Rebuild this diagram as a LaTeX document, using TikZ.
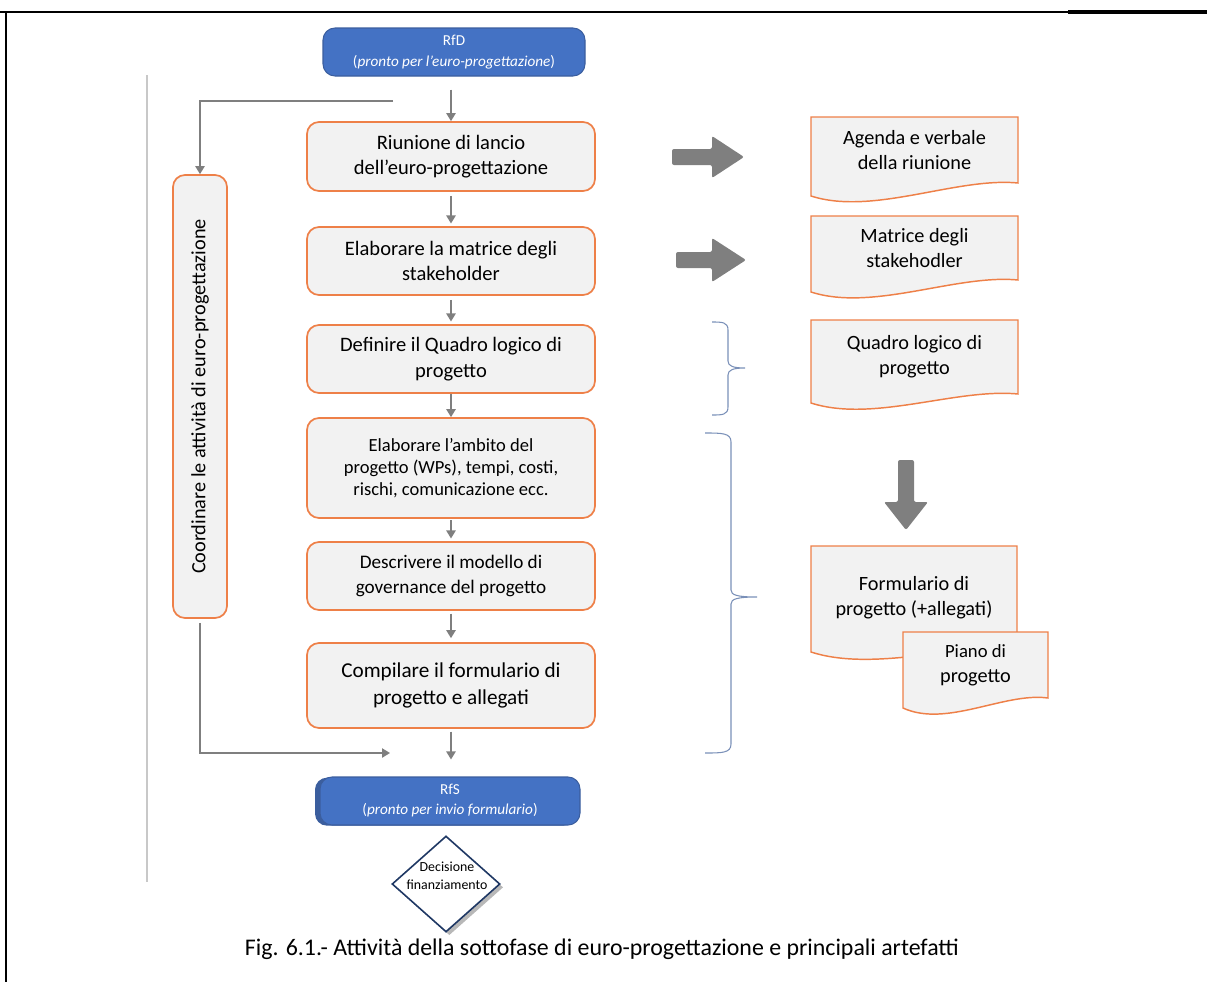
\documentclass[tikz,border=0pt]{standalone}
\usepackage{fontspec}
\setmainfont{Carlito}
\usetikzlibrary{arrows.meta,shapes.geometric,calc,shadows}

\definecolor{accblue}{HTML}{4472C4}
\definecolor{accblueedge}{HTML}{3B5E9E}
\definecolor{boxfill}{HTML}{F2F2F2}
\definecolor{boxedge}{HTML}{EE8048}
\definecolor{flowgray}{HTML}{7F7F7F}
\definecolor{bracecol}{HTML}{7A90B8}
\definecolor{navy}{HTML}{1F3864}
\definecolor{rulegray}{HTML}{C8C8C8}

\tikzset{
  stepbox/.style={draw=boxedge, line width=1.3pt, fill=boxfill, rounded corners=9pt,
    minimum width=216pt, align=center, inner sep=2pt,
    font=\fontsize{15.4pt}{19pt}\selectfont},
  milestone/.style={draw=accblueedge, line width=0.8pt, fill=accblue, rounded corners=9pt,
    text=white, align=center, inner sep=1pt},
  conn/.style={draw=flowgray, line width=1.1pt, -{Triangle[length=6pt,width=7pt]}},
  bigarrow/.style={fill=flowgray, rounded corners=1.5pt},
  docbox/.style={align=center, inner sep=0pt, font=\fontsize{15.2pt}{18.75pt}\selectfont},
  docline/.style={draw=boxedge, line width=1.1pt, fill=boxfill},
  bracestyle/.style={draw=bracecol, line width=0.8pt},
}

% artefact: name, centre x, centre y, width, height (to the right-hand bottom), extra drop on the left, text
\newcommand\artefact[7]{%
  \path[docline] (#2-#4/2, #3-#5/2) -- (#2+#4/2, #3-#5/2) -- (#2+#4/2, #3+#5/2)
    .. controls (#2+#4/2-0.3*#4, #3+#5/2-6) and (#2-#4/2+0.3*#4, #3+#5/2+#6+20) ..
    (#2-#4/2, #3+#5/2+#6) -- cycle;
  \node[docbox] (#1) at (#2,#3) {#7};
}

\begin{document}
\begin{tikzpicture}[x=0.75pt, y=-0.75pt]
\useasboundingbox (0,0) rectangle (1207,982);

% page frame
\draw[black, line width=1pt] (0,12) -- (1207,12);
\draw[black, line width=2pt] (0,12) -- (147,12);
\draw[black, line width=2.4pt] (1068,12) -- (1207,12);
\draw[black, line width=1.5pt] (6,12) -- (6,982);
\draw[rulegray, line width=0.8pt] (147,75) -- (147,882);

% milestones
\node[milestone, minimum width=196.5pt, minimum height=36pt,
      font=\fontsize{11.4pt}{15.75pt}\selectfont] (rfd) at (454,52)
      {RfD\\(\textit{pronto per l’euro-progettazione})};
\node[milestone, minimum width=195pt, minimum height=36pt,
      font=\fontsize{11.4pt}{15pt}\selectfont,
      drop shadow={shadow xshift=-3.75pt, shadow yshift=-0.5pt, fill=accblueedge, opacity=1}]
      (rfs) at (450,801) {RfS\\(\textit{pronto per invio formulario})};

% activities
\node[stepbox, minimum height=51.75pt] (b1) at (451,156.5) {Riunione di lancio\\dell’euro-progettazione};
\node[stepbox, minimum height=51pt] (b2) at (451,261) {Elaborare la matrice degli\\stakeholder};
\node[stepbox, minimum height=51pt] (b3) at (451,359) {Definire il Quadro logico di\\progetto};
\node[stepbox, minimum height=75pt, font=\fontsize{13.9pt}{16.5pt}\selectfont] (b4) at (451,468)
      {Elaborare l’ambito del\\progetto (WPs), tempi, costi,\\rischi, comunicazione ecc.};
\node[stepbox, minimum height=51pt, font=\fontsize{14.4pt}{18.75pt}\selectfont] (b5) at (451,576)
      {Descrivere il modello di\\governance del progetto};
\node[stepbox, minimum height=63.75pt, font=\fontsize{15.9pt}{20.25pt}\selectfont] (b6) at (451,685.5)
      {Compilare il formulario di\\progetto e allegati};

% coordination activity
\node[stepbox, rotate=90, minimum width=332.25pt, minimum height=40.5pt, inner sep=0pt,
      font=\fontsize{15.2pt}{18pt}\selectfont] (coord) at (200,396.5)
      {Coordinare le attività di euro-progettazione};

% decision
\node[diamond, draw=navy, line width=1.2pt, fill=white, minimum width=81pt, minimum height=72pt, inner sep=0pt,
      drop shadow={shadow xshift=2.5pt, shadow yshift=-2.5pt, fill=gray!70, opacity=0.8}] (dec) at (446,884) {};
\node[align=center, inner sep=0pt, font=\fontsize{10.4pt}{13.5pt}\selectfont] (dectext) at (447,876)
      {Decisione\\finanziamento};

% flow connectors
\coordinate (split) at (393,101);
\coordinate (merge) at (390,753);
\draw[conn, shorten <=9.75pt] (rfd.south -| b1.north) -- (b1.north);
\draw[conn] (split) -| (coord.east);
\draw[conn, shorten <=3pt, shorten >=2pt] (b1.south) -- (b2.north);
\draw[conn, shorten <=3pt, shorten >=2pt] (b2.south) -- (b3.north);
\draw[conn] (b3.south) -- (b4.north);
\draw[conn, shorten <=1pt, shorten >=2pt] (b4.south) -- (b5.north);
\draw[conn, shorten <=2pt, shorten >=3pt] (b5.south) -- (b6.north);
\draw[conn, shorten <=2pt, shorten >=12.75pt] (b6.south) -- (b6.south |- rfs.north);
\draw[conn, shorten <=3pt] (coord.west) |- (merge);

% artefacts
\artefact{agenda}{914.5}{150}{207}{66}{13}{Agenda e verbale\\della riunione}
\artefact{matrice}{914.5}{248}{207}{64}{12}{Matrice degli\\stakehodler}
\artefact{quadro}{914.5}{357}{207}{74}{9}{Quadro logico di\\progetto}
\artefact{formulario}{914}{598}{206}{104}{2}{Formulario di\\progetto (+allegati)}
\artefact{piano}{975.5}{665}{145}{66}{10}{\fontsize{14pt}{18pt}\selectfont Piano di\\progetto}

% block arrows towards the artefacts
\path[bigarrow] (672,149) -- (712,149) -- (712,136) -- (744,157) -- (712,178) -- (712,165) -- (672,165) -- cycle;
\path[bigarrow] (676,252) -- (712,252) -- (712,238) -- (746,260) -- (712,282) -- (712,268) -- (676,268) -- cycle;
\path[bigarrow] (898,460) -- (914,460) -- (914,502) -- (928,502) -- (906,530) -- (884,502) -- (898,502) -- cycle;

% braces grouping the activities
\draw[bracestyle] (712,322) .. controls (722,322) and (728,322) .. (728,330) -- (728,361)
  .. controls (728,366) and (733,368) .. (745,368) .. controls (733,368) and (728,370) .. (728,375)
  -- (728,407) .. controls (728,415) and (722,415) .. (712,415);
\draw[bracestyle] (705,433) .. controls (722,433) and (731,433) .. (731,442) -- (731,590)
  .. controls (731,595) and (737,597) .. (757,597) .. controls (737,597) and (731,599) .. (731,604)
  -- (731,744) .. controls (731,753) and (722,753) .. (705,753);

% caption
\node[font=\fontsize{17.9pt}{20pt}\selectfont] (caption) at (602,949)
      {Fig. 6.1.- Attività della sottofase di euro-progettazione e principali artefatti};
\end{tikzpicture}
\end{document}
